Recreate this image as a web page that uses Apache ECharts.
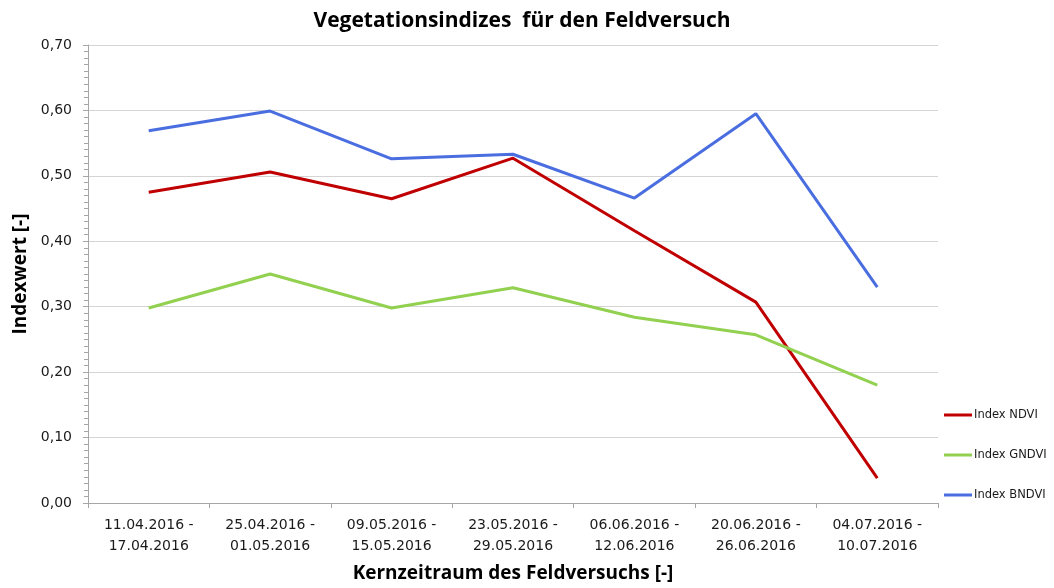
<!DOCTYPE html>
<html>
<head>
<meta charset="utf-8">
<script src="https://cdn.jsdelivr.net/npm/echarts@6/dist/echarts.min.js"></script>
<style>
  html, body { margin: 0; padding: 0; background: #fff; }
  #chart { width: 1054px; height: 588px; }
</style>
</head>
<body>
<div id="chart"></div>
<script>
// Weekly observation windows of the field trial
const categories = [
  '11.04.2016 -\n17.04.2016',
  '25.04.2016 -\n01.05.2016',
  '09.05.2016 -\n15.05.2016',
  '23.05.2016 -\n29.05.2016',
  '06.06.2016 -\n12.06.2016',
  '20.06.2016 -\n26.06.2016',
  '04.07.2016 -\n10.07.2016'
];

// Vegetation index values per window
const ndvi  = [0.475, 0.506, 0.465, 0.527, 0.416, 0.307, 0.038];
const gndvi = [0.298, 0.350, 0.298, 0.329, 0.284, 0.257, 0.180];
const bndvi = [0.569, 0.599, 0.526, 0.533, 0.466, 0.595, 0.330];

const seriesNames = ['Index NDVI', 'Index GNDVI', 'Index BNDVI'];
const colors = ['#C00000', '#92D050', '#4A6EE0'];

const chart = echarts.init(document.getElementById('chart'), null, { renderer: 'canvas' });

const axisFont = 'DejaVu Sans, Verdana, sans-serif';
const titleFont = 'Open Sans, Liberation Sans, sans-serif';

chart.setOption({
  animation: false,
  backgroundColor: '#ffffff',
  color: colors,
  title: {
    text: 'Vegetationsindizes  für den Feldversuch',
    left: 517,
    textAlign: 'center',
    top: 6,
    textStyle: { fontFamily: titleFont, fontWeight: 'bold', fontSize: 21, color: '#000' }
  },
  legend: {
    orient: 'vertical',
    left: 944,
    top: 409,
    padding: 0,
    itemGap: 28,
    itemWidth: 28,
    itemHeight: 3,
    icon: 'rect',
    data: seriesNames,
    textStyle: { fontFamily: axisFont, fontSize: 11.5, color: '#1a1a1a', padding: [0, 0, 0, -3] }
  },
  grid: { left: 88, right: 116, top: 45, bottom: 85, outerBoundsMode: 'none', containLabel: false },
  xAxis: {
    type: 'category',
    data: categories,
    boundaryGap: true,
    name: 'Kernzeitraum des Feldversuchs [-]',
    nameLocation: 'middle',
    nameGap: 61,
    nameTextStyle: { fontFamily: titleFont, fontWeight: 'bold', fontSize: 19, color: '#000' },
    axisLine: { lineStyle: { color: '#a6a6a6', width: 1 } },
    axisTick: { show: true, alignWithLabel: false, length: 5, lineStyle: { color: '#a6a6a6' } },
    axisLabel: { fontFamily: axisFont, fontSize: 14, color: '#1a1a1a', lineHeight: 21, margin: 12 },
    splitLine: { show: false }
  },
  yAxis: {
    type: 'value',
    min: 0,
    max: 0.7,
    interval: 0.1,
    name: 'Indexwert [-]',
    nameLocation: 'middle',
    nameGap: 57,
    nameRotate: 90,
    nameTextStyle: { fontFamily: titleFont, fontWeight: 'bold', fontSize: 19, color: '#000' },
    axisLine: { show: true, lineStyle: { color: '#a6a6a6', width: 1 } },
    axisTick: { show: true, length: 5, lineStyle: { color: '#a6a6a6' } },
    minorTick: { show: true, splitNumber: 10, length: 4, lineStyle: { color: '#a6a6a6' } },
    axisLabel: {
      fontFamily: axisFont, fontSize: 14, color: '#1a1a1a', margin: 16,
      formatter: v => v.toFixed(2).replace('.', ',')
    },
    splitLine: { show: true, lineStyle: { color: '#d4d4d4', width: 1 } }
  },
  series: [
    { name: seriesNames[0], type: 'line', data: ndvi,  symbol: 'none', lineStyle: { width: 3 } },
    { name: seriesNames[1], type: 'line', data: gndvi, symbol: 'none', lineStyle: { width: 3 } },
    { name: seriesNames[2], type: 'line', data: bndvi, symbol: 'none', lineStyle: { width: 3 } }
  ]
});
</script>
</body>
</html>
